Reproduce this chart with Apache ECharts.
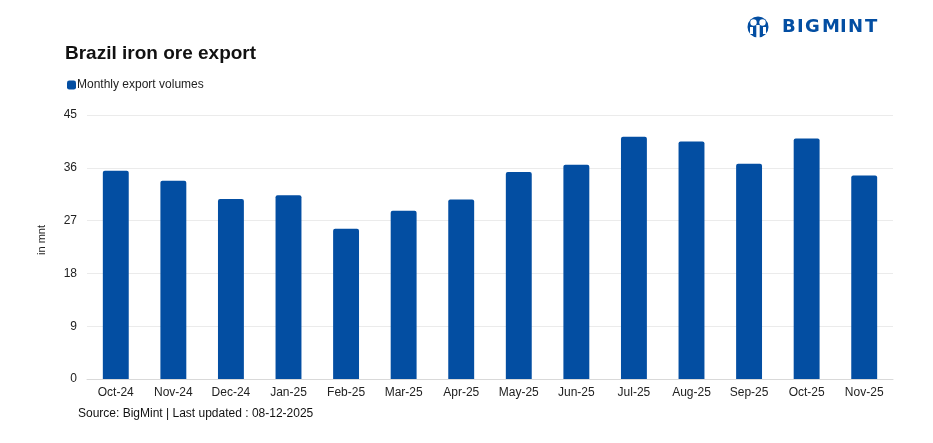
<!DOCTYPE html>
<html>
<head>
<meta charset="utf-8">
<script src="https://cdn.jsdelivr.net/npm/echarts@6/dist/echarts.min.js"></script>
<style>
html,body{margin:0;padding:0;background:#fff;}
#chart{width:933px;height:443px;}
</style>
</head>
<body>
<div id="chart"></div>
<script>
const categories = ['Oct-24','Nov-24','Dec-24','Jan-25','Feb-25','Mar-25','Apr-25','May-25','Jun-25','Jul-25','Aug-25','Sep-25','Oct-25','Nov-25'];
const exportVolumes = [35.5, 33.8, 30.7, 31.3, 25.6, 28.7, 30.6, 35.3, 36.5, 41.3, 40.5, 36.7, 41.0, 34.7];
const yTicks = [0, 9, 18, 27, 36, 45];
const logoLetters = ['B','I','G','M','I','N','T'];

const FONT = 'Liberation Sans, Arial, sans-serif';
const BLUE = '#034EA2';

const logoChildren = [
  {type: 'circle', shape: {cx: 12, cy: 13, r: 10.5}, style: {fill: BLUE}},
  {type: 'circle', shape: {cx: 7.5, cy: 8.5, r: 3.2}, style: {fill: '#fff'}},
  {type: 'circle', shape: {cx: 16.5, cy: 8.5, r: 3.2}, style: {fill: '#fff'}},
  {type: 'rect', shape: {x: 10.3, y: 11, width: 3.4, height: 13}, style: {fill: '#fff'}},
  {type: 'rect', shape: {x: 4, y: 13, width: 3, height: 7}, style: {fill: '#fff'}},
  {type: 'rect', shape: {x: 17, y: 13, width: 3, height: 7}, style: {fill: '#fff'}}
];
const pitch = [0, 15, 23, 40, 58, 66, 83];
logoLetters.forEach((ch, i) => {
  logoChildren.push({type: 'text', x: 36 + pitch[i], y: 4,
    style: {text: ch, font: 'bold 18px DejaVu Sans, Liberation Sans, sans-serif', fill: BLUE}});
});

const chart = echarts.init(document.getElementById('chart'), null, {renderer: 'canvas'});
chart.setOption({
  backgroundColor: '#fff',
  animation: false,
  textStyle: {fontFamily: FONT},
  title: {
    text: 'Brazil iron ore export',
    left: 60, top: 39,
    textStyle: {fontFamily: FONT, fontSize: 19, fontWeight: 'bold', color: '#111'}
  },
  legend: {
    left: 67, top: 79, padding: 0,
    itemWidth: 9, itemHeight: 9, itemGap: 4,
    icon: 'roundRect',
    textStyle: {fontFamily: FONT, fontSize: 12, color: '#222', padding: [0, 0, 0, -4]},
    data: ['Monthly export volumes']
  },
  graphic: [
    {
      type: 'text', left: 78, top: 408,
      style: {text: 'Source: BigMint | Last updated : 08-12-2025', font: '12px Liberation Sans, Arial, sans-serif', fill: '#111'}
    },
    {
      type: 'text', x: 42, y: 240, rotation: Math.PI / 2,
      style: {text: 'in mnt', font: '11px Liberation Sans, Arial, sans-serif', fill: '#222', align: 'center', verticalAlign: 'middle'}
    },
    {
      type: 'group', x: 746, y: 14,
      children: logoChildren
    }
  ],
  grid: {left: 87, right: 40, top: 115, bottom: 64, containLabel: false},
  xAxis: {
    type: 'category',
    data: categories,
    axisLine: {show: true, lineStyle: {color: '#d9d9d9'}},
    axisTick: {show: false},
    axisLabel: {fontFamily: FONT, fontSize: 12, color: '#222', margin: 8, interval: 0}
  },
  yAxis: {
    type: 'value',
    min: 0, max: 45, interval: 9,
    axisLine: {show: false},
    axisTick: {show: false},
    axisLabel: {fontFamily: FONT, fontSize: 12, color: '#222', margin: 10,
      formatter: v => yTicks.includes(v) ? String(v) : ''},
    splitLine: {lineStyle: {color: '#ebebeb'}}
  },
  series: [{
    name: 'Monthly export volumes',
    type: 'bar',
    data: exportVolumes,
    barWidth: '45%',
    itemStyle: {color: BLUE, borderRadius: [2, 2, 0, 0]}
  }]
});
</script>
</body>
</html>
